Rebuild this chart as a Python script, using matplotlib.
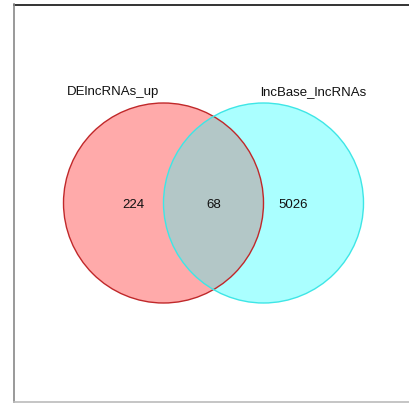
import matplotlib
matplotlib.use("Agg")
import matplotlib.pyplot as plt
from matplotlib.patches import Circle
from matplotlib.lines import Line2D

# venn data
set_names = ["DElncRNAs_up", "lncBase_lncRNAs"]
only_a = 224
both = 68
only_b = 5026
counts = [only_a, both, only_b]

fill_a = "#ffaaaa"
fill_b = "#aaffff"
fill_ab = "#b3c7c7"
edge_a = "#c0282a"
edge_b = "#3ee6e6"

fig = plt.figure(figsize=(4.10, 4.03), dpi=100)
ax = fig.add_axes([0, 0, 1, 1])
ax.set_xlim(0, 410)
ax.set_ylim(403, 0)
ax.set_aspect("equal")
ax.axis("off")

# layout (pixels)
r = 100
ca = (163.5, 203)
cb = (263.5, 203)

circ_a = Circle(ca, r, facecolor=fill_a, edgecolor="none", zorder=1)
circ_b = Circle(cb, r, facecolor=fill_b, edgecolor="none", zorder=1)
ax.add_patch(circ_a)
ax.add_patch(circ_b)

# overlap region: circle b clipped to circle a
lens = Circle(cb, r, facecolor=fill_ab, edgecolor="none", zorder=2)
ax.add_patch(lens)
lens.set_clip_path(circ_a)

ax.add_patch(Circle(ca, r, facecolor="none", edgecolor=edge_a, lw=1.0, zorder=3))
ax.add_patch(Circle(cb, r, facecolor="none", edgecolor=edge_b, lw=1.0, zorder=3))

font = "Liberation Sans"
ax.text(113, 92, set_names[0], ha="center", va="center", fontsize=9.5,
        family=font, color="#111111")
ax.text(313, 92, set_names[1], ha="center", va="center", fontsize=9.5,
        family=font, color="#111111")

num_x = [133, 213.5, 293]
for x, c in zip(num_x, counts):
    ax.text(x, 205, str(c), ha="center", va="center", fontsize=9.5,
            family=font, color="#111111")

# partial frame around the image
ax.add_line(Line2D([14, 410], [4.5, 4.5], color="#333333", lw=1.4))
ax.add_line(Line2D([14.5, 14.5], [4, 402], color="#888888", lw=1.2))
ax.add_line(Line2D([14, 410], [402, 402], color="#bbbbbb", lw=1.2))

fig.savefig("out.png", dpi=100)
